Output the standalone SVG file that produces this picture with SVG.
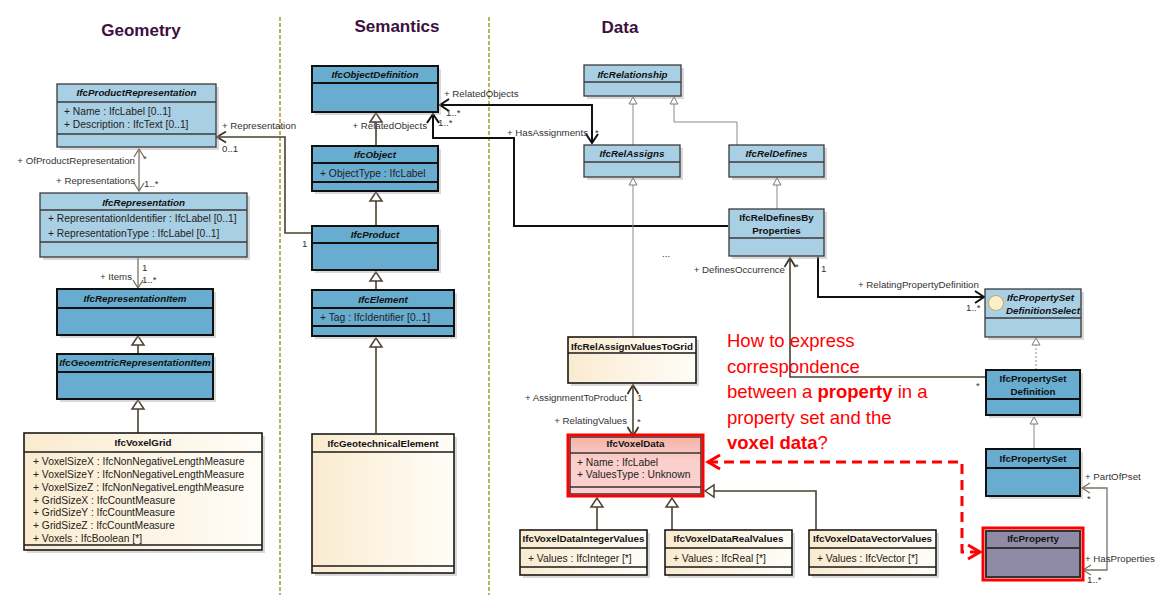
<svg xmlns="http://www.w3.org/2000/svg" width="1174" height="610" viewBox="0 0 1174 610">
<defs>
<linearGradient id="cream" x1="0" y1="0" x2="1" y2="0">
<stop offset="0" stop-color="#faebcf"/>
<stop offset="1" stop-color="#fffdf8"/>
</linearGradient>
<linearGradient id="pink" x1="0" y1="0" x2="0" y2="1">
<stop offset="0" stop-color="#f5b2a6"/>
<stop offset="0.4" stop-color="#fbcfcb"/>
<stop offset="1" stop-color="#fcd0d0"/>
</linearGradient>
<marker id="genL" markerUnits="userSpaceOnUse" viewBox="-11 -8 13 16" markerWidth="13" markerHeight="16" refX="0" refY="0" orient="auto" overflow="visible">
<path d="M0,0 L-9,-6 L-9,6 Z" fill="#fff" stroke="#4a4232" stroke-width="1.5"/>
</marker>
<marker id="genS" markerUnits="userSpaceOnUse" viewBox="-9 -6 10 12" markerWidth="10" markerHeight="12" refX="0" refY="0" orient="auto" overflow="visible">
<path d="M0,0 L-7,-4 L-7,4 Z" fill="#fff" stroke="#7a7a7a" stroke-width="1"/>
</marker>
<marker id="arrK" markerUnits="userSpaceOnUse" viewBox="-11 -8 13 16" markerWidth="13" markerHeight="16" refX="0" refY="0" orient="auto-start-reverse" overflow="visible">
<path d="M-9,-6 L0,0 L-9,6" fill="none" stroke="#111" stroke-width="2"/>
</marker>
<marker id="arrD" markerUnits="userSpaceOnUse" viewBox="-11 -8 13 16" markerWidth="13" markerHeight="16" refX="0" refY="0" orient="auto-start-reverse" overflow="visible">
<path d="M-9,-5.5 L0,0 L-9,5.5" fill="none" stroke="#3e3628" stroke-width="1.8"/>
</marker>
<marker id="arrG" markerUnits="userSpaceOnUse" viewBox="-11 -8 13 16" markerWidth="13" markerHeight="16" refX="0" refY="0" orient="auto-start-reverse" overflow="visible">
<path d="M-8,-5 L0,0 L-8,5" fill="none" stroke="#7a7266" stroke-width="1.3"/>
</marker>
<marker id="arrR" markerUnits="userSpaceOnUse" viewBox="-14 -9 16 18" markerWidth="16" markerHeight="18" refX="0" refY="0" orient="auto-start-reverse" overflow="visible">
<path d="M-12,-7 L0,0 L-12,7" fill="none" stroke="#ff0000" stroke-width="3"/>
</marker>
</defs>
<style>
.lb{fill:#a9cfe4;stroke:#3a3a3a;stroke-width:1.3}
.db{fill:#68acd0;stroke:#111;stroke-width:2}
.cr{fill:url(#cream);stroke:#1a1a1a;stroke-width:1.6}
.sh{fill:#a0a0a0;opacity:.4}
.sepl{stroke:#3a3a3a;stroke-width:1.3}
.sepd{stroke:#111;stroke-width:2}
.sepc{stroke:#1a1a1a;stroke-width:1.5}
text{font-family:"Liberation Sans",Arial,sans-serif}
.ti{font-size:9.8px;font-weight:bold;font-style:italic;text-anchor:middle;fill:#111}
.tb{font-size:9.8px;font-weight:bold;text-anchor:middle;fill:#111}
.at{font-size:10.3px;fill:#222}
.lbl{font-size:9.7px;fill:#333}
.lblr{font-size:9.7px;fill:#333;text-anchor:end}
.hd{font-size:17px;font-weight:bold;fill:#3c1040;text-anchor:middle}
.div{stroke:#a09a30;stroke-width:1.5;stroke-dasharray:4 2;fill:none}
.cK{fill:none;stroke:#111;stroke-width:2}
.cD{fill:none;stroke:#4a4232;stroke-width:1.6}
.cG{fill:none;stroke:#7a7266;stroke-width:1.3}
.cS{fill:none;stroke:#8a8a84;stroke-width:1}
.red{font-size:18.5px;fill:#ff0000}
</style>
<rect width="1174" height="610" fill="#fff"/>

<g id="headers">
<text class="hd" x="141" y="36">Geometry</text>
<text class="hd" x="397" y="32">Semantics</text>
<text class="hd" x="620" y="33">Data</text>
<line class="div" x1="280" y1="17" x2="280" y2="595"/>
<line class="div" x1="489" y1="17" x2="489" y2="595"/>
</g>

<g id="connectors">
<path class="cD" d="M312,233 H285 V137 H217" marker-end="url(#arrD)"/>
<path class="cG" d="M139,149 V191" marker-start="url(#arrG)" marker-end="url(#arrG)"/>
<path class="cG" d="M138,258 V288" marker-end="url(#arrG)"/>
<path class="cD" d="M138,354 V336" marker-end="url(#genL)"/>
<path class="cD" d="M138,433 V400" marker-end="url(#genL)"/>
<path class="cD" d="M376,146 V113" marker-end="url(#genL)"/>
<path class="cD" d="M376,226 V192" marker-end="url(#genL)"/>
<path class="cD" d="M376,290 V272" marker-end="url(#genL)"/>
<path class="cD" d="M376,433 V338" marker-end="url(#genL)"/>
<path class="cK" d="M728,226 H514 V138 H433 V114" marker-end="url(#arrK)"/>
<path class="cK" d="M440,105 H592 V143" marker-start="url(#arrK)" marker-end="url(#arrK)"/>
<path class="cS" d="M633,145 V97" marker-end="url(#genS)"/>
<path class="cS" d="M737,145 V122 H674 V97" marker-end="url(#genS)"/>
<path class="cS" d="M777,209 V178" marker-end="url(#genS)"/>
<path class="cS" d="M633,337 V178" marker-end="url(#genS)"/>
<path class="cS" d="M1036,370 V338" stroke-dasharray="2 2" marker-end="url(#genS)"/>
<path class="cS" d="M1034,449 V417" marker-end="url(#genS)"/>
<path class="cD" d="M633,385 V436" marker-start="url(#arrD)" marker-end="url(#arrD)"/>
<path class="cD" d="M985,377 H790 V258" stroke-width="2" marker-end="url(#arrD)"/>
<path class="cK" d="M818,257 V297 H984" marker-end="url(#arrK)"/>
<path class="cG" d="M1082,488 H1107 V570 H1083" stroke-width="1.2" marker-start="url(#arrG)" marker-end="url(#arrG)"/>
<path class="cD" d="M597,530 V498" marker-end="url(#genL)"/>
<path class="cD" d="M672,530 V498" marker-end="url(#genL)"/>
<path class="cD" d="M816,530 V491 H705" marker-end="url(#genL)"/>
<path d="M708,462 H962 V552 H980" fill="none" stroke="#ff0000" stroke-width="3" stroke-dasharray="10 6" marker-start="url(#arrR)" marker-end="url(#arrR)"/>
<text class="lbl" x="222" y="129">+ Representation</text>
<text class="lbl" x="222" y="152">0..1</text>
<text class="lblr" x="135" y="164">+ OfProductRepresentation</text>
<text class="lbl" x="143" y="162">*</text>
<text class="lblr" x="135" y="184">+ Representations</text>
<text class="lbl" x="144" y="187">1..*</text>
<text class="lblr" x="132" y="280">+ Items</text>
<text class="lbl" x="142" y="271">1</text>
<text class="lbl" x="142" y="283">1..*</text>
<text class="lbl" x="302" y="247">1</text>
<text class="lblr" x="427" y="129">+ RelatedObjects</text>
<text class="lbl" x="444" y="97">+ RelatedObjects</text>
<text class="lbl" x="446" y="116">1..*</text>
<text class="lbl" x="438" y="126">1..*</text>
<text class="lblr" x="588" y="136">+ HasAssignments</text>
<text class="lbl" x="595" y="136">*</text>
<text class="lbl" x="662" y="257" fill="#777" font-size="8px">...</text>
<text class="lblr" x="785" y="273">+ DefinesOccurrence</text>
<text class="lbl" x="795" y="270">*</text>
<text class="lbl" x="821" y="272">1</text>
<text class="lbl" x="858" y="288">+ RelatingPropertyDefinition</text>
<text class="lbl" x="966" y="311">1..*</text>
<text class="lbl" x="976" y="389">*</text>
<text class="lblr" x="627" y="401">+ AssignmentToProduct</text>
<text class="lbl" x="637" y="401">1</text>
<text class="lblr" x="627" y="424">+ RelatingValues</text>
<text class="lbl" x="637" y="425">*</text>
<text class="lbl" x="1085" y="480">+ PartOfPset</text>
<text class="lbl" x="1087" y="502">*</text>
<text class="lbl" x="1085" y="562">+ HasProperties</text>
<text class="lbl" x="1087" y="583">1..*</text>
</g>

<g id="IfcProductRepresentation">
<rect class="sh" x="60" y="87" width="159" height="63"/>
<rect class="lb" x="57" y="84" width="159" height="63"/>
<line class="sepl" x1="57" y1="102" x2="216" y2="102"/>
<line class="sepl" x1="57" y1="134" x2="216" y2="134"/>
<text class="ti" x="136.5" y="95.5">IfcProductRepresentation</text>
<text class="at" x="64" y="115">+ Name : IfcLabel [0..1]</text>
<text class="at" x="64" y="127.5">+ Description : IfcText [0..1]</text>
</g>

<g id="IfcRepresentation">
<rect class="sh" x="43" y="196" width="207" height="64"/>
<rect class="lb" x="40" y="193" width="207" height="64"/>
<line class="sepl" x1="40" y1="210" x2="247" y2="210"/>
<line class="sepl" x1="40" y1="242" x2="247" y2="242"/>
<text class="ti" x="143.5" y="205.5">IfcRepresentation</text>
<text class="at" x="48" y="222">+ RepresentationIdentifier : IfcLabel [0..1]</text>
<text class="at" x="48" y="236.5">+ RepresentationType : IfcLabel [0..1]</text>
</g>

<g id="IfcRepresentationItem">
<rect class="sh" x="60" y="292" width="156" height="46"/>
<rect class="db" x="57" y="289" width="156" height="46"/>
<line class="sepd" x1="57" y1="308" x2="213" y2="308"/>
<text class="ti" x="135" y="301.5">IfcRepresentationItem</text>
</g>

<g id="IfcGeoemtricRepresentationItem">
<rect class="sh" x="60" y="357" width="156" height="45"/>
<rect class="db" x="57" y="354" width="156" height="45"/>
<line class="sepd" x1="57" y1="372" x2="213" y2="372"/>
<text class="ti" x="135" y="365.5">IfcGeoemtricRepresentationItem</text>
</g>

<g id="IfcVoxelGrid">
<rect class="sh" x="27" y="436" width="238" height="117"/>
<rect class="cr" x="24" y="433" width="238" height="117"/>
<line class="sepc" x1="24" y1="452" x2="262" y2="452"/>
<line class="sepc" x1="24" y1="545" x2="262" y2="545"/>
<text class="tb" x="143" y="445.5">IfcVoxelGrid</text>
<text class="at" x="33" y="465.4">+ VoxelSizeX : IfcNonNegativeLengthMeasure</text>
<text class="at" x="33" y="478.1">+ VoxelSizeY : IfcNonNegativeLengthMeasure</text>
<text class="at" x="33" y="490.8">+ VoxelSizeZ : IfcNonNegativeLengthMeasure</text>
<text class="at" x="33" y="503.5">+ GridSizeX : IfcCountMeasure</text>
<text class="at" x="33" y="516.2">+ GridSizeY : IfcCountMeasure</text>
<text class="at" x="33" y="528.9">+ GridSizeZ : IfcCountMeasure</text>
<text class="at" x="33" y="541.6">+ Voxels : IfcBoolean [*]</text>
</g>

<g id="IfcObjectDefinition">
<rect class="sh" x="315" y="69" width="126" height="46"/>
<rect class="db" x="312" y="66" width="126" height="46"/>
<line class="sepd" x1="312" y1="83" x2="438" y2="83"/>
<text class="ti" x="375" y="77.5">IfcObjectDefinition</text>
</g>

<g id="IfcObject">
<rect class="sh" x="315" y="149" width="126" height="45"/>
<rect class="db" x="312" y="146" width="126" height="45"/>
<line class="sepd" x1="312" y1="163" x2="438" y2="163"/>
<line class="sepd" x1="312" y1="182" x2="438" y2="182"/>
<text class="ti" x="375" y="157.5">IfcObject</text>
<text class="at" x="320" y="176.7">+ ObjectType : IfcLabel</text>
</g>

<g id="IfcProduct">
<rect class="sh" x="315" y="229" width="126" height="44"/>
<rect class="db" x="312" y="226" width="126" height="44"/>
<line class="sepd" x1="312" y1="243" x2="438" y2="243"/>
<text class="ti" x="375" y="237.5">IfcProduct</text>
</g>

<g id="IfcElement">
<rect class="sh" x="315" y="293" width="142" height="46"/>
<rect class="db" x="312" y="290" width="142" height="46"/>
<line class="sepd" x1="312" y1="308" x2="454" y2="308"/>
<line class="sepd" x1="312" y1="326" x2="454" y2="326"/>
<text class="ti" x="383" y="302.5">IfcElement</text>
<text class="at" x="320" y="320.7">+ Tag : IfcIdentifier [0..1]</text>
</g>

<g id="IfcGeotechnicalElement">
<rect class="sh" x="315" y="437" width="142" height="139"/>
<rect class="cr" x="312" y="434" width="142" height="139"/>
<line class="sepc" x1="312" y1="452" x2="454" y2="452"/>
<line class="sepc" x1="312" y1="566" x2="454" y2="566"/>
<text class="tb" x="383" y="446.5">IfcGeotechnicalElement</text>
</g>

<g id="IfcRelationship">
<rect class="sh" x="587" y="68" width="97" height="31"/>
<rect class="lb" x="584" y="65" width="97" height="31"/>
<line class="sepl" x1="584" y1="82" x2="681" y2="82"/>
<text class="ti" x="632.5" y="77.5">IfcRelationship</text>
</g>

<g id="IfcRelAssigns">
<rect class="sh" x="587" y="148" width="96" height="32"/>
<rect class="lb" x="584" y="145" width="96" height="32"/>
<line class="sepl" x1="584" y1="162" x2="680" y2="162"/>
<text class="ti" x="632" y="156.5">IfcRelAssigns</text>
</g>

<g id="IfcRelDefines">
<rect class="sh" x="732" y="148" width="95" height="32"/>
<rect class="lb" x="729" y="145" width="95" height="32"/>
<line class="sepl" x1="729" y1="162" x2="824" y2="162"/>
<text class="ti" x="776.5" y="156.5">IfcRelDefines</text>
</g>

<g id="IfcRelDefinesByProperties">
<rect class="sh" x="732" y="212" width="95" height="47"/>
<rect class="lb" x="729" y="209" width="95" height="47"/>
<line class="sepl" x1="729" y1="238" x2="824" y2="238"/>
<text class="tb" x="776.5" y="220.5">IfcRelDefinesBy</text>
<text class="tb" x="776.5" y="233.5">Properties</text>
</g>

<g id="IfcPropertySetDefinitionSelect">
<rect class="sh" x="988" y="292" width="96" height="48"/>
<rect class="lb" x="985" y="289" width="96" height="48"/>
<line class="sepl" x1="985" y1="318" x2="1081" y2="318"/>
<circle cx="996" cy="303" r="7.5" fill="#fcefc8" stroke="#c8a45c" stroke-width="1"/>
<text class="ti" x="1007" y="300.5" style="text-anchor:start">IfcPropertySet</text>
<text class="ti" x="1006" y="313.5" style="text-anchor:start">DefinitionSelect</text>
</g>

<g id="IfcPropertySetDefinition">
<rect class="sh" x="989" y="373" width="94" height="45"/>
<rect class="db" x="986" y="370" width="94" height="45"/>
<line class="sepd" x1="986" y1="399" x2="1080" y2="399"/>
<text class="tb" x="1033" y="381.5">IfcPropertySet</text>
<text class="tb" x="1033" y="394.5">Definition</text>
</g>

<g id="IfcPropertySet">
<rect class="sh" x="989" y="452" width="94" height="47"/>
<rect class="db" x="986" y="449" width="94" height="47"/>
<line class="sepd" x1="986" y1="468" x2="1080" y2="468"/>
<text class="tb" x="1033" y="461.5">IfcPropertySet</text>
</g>

<g id="IfcProperty">
<rect x="986" y="531" width="94" height="46" fill="#8f8ba7" stroke="#333" stroke-width="2"/>
<line x1="986" y1="548" x2="1080" y2="548" stroke="#333" stroke-width="2"/>
<rect x="983" y="528" width="100" height="52" fill="none" stroke="#ff0000" stroke-width="3"/>
<text class="tb" x="1033" y="541.5">IfcProperty</text>
</g>

<g id="IfcRelAssignValuesToGrid">
<rect class="sh" x="571" y="340" width="128" height="46"/>
<rect class="cr" x="568" y="337" width="128" height="46"/>
<line class="sepc" x1="568" y1="353" x2="696" y2="353"/>
<text class="tb" x="632" y="349.5">IfcRelAssignValuesToGrid</text>
</g>

<g id="IfcVoxelData">
<rect x="570" y="437" width="131" height="57" fill="url(#pink)" stroke="#333" stroke-width="1.5"/>
<line x1="570" y1="453" x2="701" y2="453" stroke="#333" stroke-width="1.5"/>
<line x1="570" y1="487" x2="701" y2="487" stroke="#333" stroke-width="1.5"/>
<rect x="568" y="435" width="135" height="61" fill="none" stroke="#ff0000" stroke-width="3"/>
<text class="tb" x="635.5" y="446.5">IfcVoxelData</text>
<text class="at" x="577" y="465.7">+ Name : IfcLabel</text>
<text class="at" x="577" y="478.2">+ ValuesType : Unknown</text>
</g>

<g id="IfcVoxelDataIntegerValues">
<rect class="sh" x="523" y="533" width="127" height="45"/>
<rect class="cr" x="520" y="530" width="127" height="45"/>
<line class="sepc" x1="520" y1="548" x2="647" y2="548"/>
<line class="sepc" x1="520" y1="567" x2="647" y2="567"/>
<text class="tb" x="583.5" y="541.5">IfcVoxelDataIntegerValues</text>
<text class="at" x="528" y="561.7">+ Values : IfcInteger [*]</text>
</g>

<g id="IfcVoxelDataRealValues">
<rect class="sh" x="668" y="533" width="127" height="45"/>
<rect class="cr" x="665" y="530" width="127" height="45"/>
<line class="sepc" x1="665" y1="548" x2="792" y2="548"/>
<line class="sepc" x1="665" y1="567" x2="792" y2="567"/>
<text class="tb" x="728.5" y="541.5">IfcVoxelDataRealValues</text>
<text class="at" x="673" y="561.7">+ Values : IfcReal [*]</text>
</g>

<g id="IfcVoxelDataVectorValues">
<rect class="sh" x="812" y="533" width="127" height="45"/>
<rect class="cr" x="809" y="530" width="127" height="45"/>
<line class="sepc" x1="809" y1="548" x2="936" y2="548"/>
<line class="sepc" x1="809" y1="567" x2="936" y2="567"/>
<text class="tb" x="872.5" y="541.5">IfcVoxelDataVectorValues</text>
<text class="at" x="817" y="561.7">+ Values : IfcVector [*]</text>
</g>

<g id="question">
<text class="red" x="727" y="347">How to express</text>
<text class="red" x="727" y="372.5">correspondence</text>
<text class="red" x="727" y="398">between a <tspan font-weight="bold">property</tspan> in a</text>
<text class="red" x="727" y="423.5">property set and the</text>
<text class="red" x="727" y="449"><tspan font-weight="bold">voxel data</tspan>?</text>
</g>
</svg>
